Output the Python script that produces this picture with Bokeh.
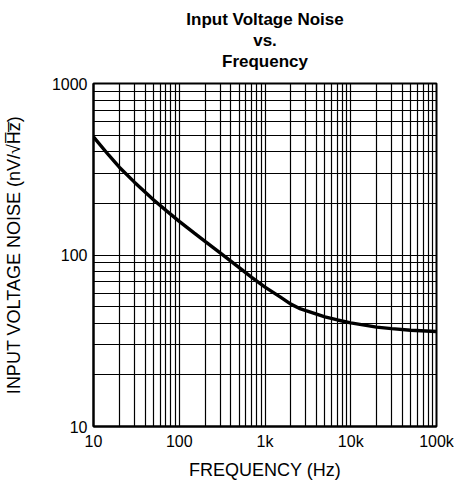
from bokeh.plotting import figure
from bokeh.models import FixedTicker, Title
from bokeh.embed import file_html
from bokeh.resources import INLINE

# Data
freq_hz = [10, 15, 20, 30, 50, 70, 100, 150, 200, 300, 500, 700, 1000,
           1500, 2000, 2500, 3000, 5000, 7000, 10000, 20000, 30000, 50000, 100000]
noise_nv = [488, 383, 325, 266, 210, 182, 157, 134, 120, 103, 84.5, 74, 65,
            57, 51.7, 48.9, 47.4, 43.6, 41.8, 40.2, 38, 37.2, 36.4, 35.8]

x_ticks = [10, 100, 1000, 10000, 100000]
x_tick_labels = ["10", "100", "1k", "10k", "100k"]
y_ticks = [10, 100, 1000]
y_tick_labels = ["10", "100", "1000"]
title_lines = ["Input Voltage Noise", "vs.", "Frequency"]

x_grid = [m * 10 ** e for e in range(1, 5) for m in range(1, 10)] + [100000]
y_grid = [m * 10 ** e for e in range(1, 3) for m in range(1, 10)] + [1000]

FONT = "Liberation Sans"

p = figure(width=454, height=483, x_axis_type="log", y_axis_type="log",
           x_range=(10, 100000), y_range=(10, 1000),
           output_backend="svg", toolbar_location=None,
           min_border_left=93, min_border_right=18,
           min_border_top=83, min_border_bottom=57)


def title_style(t):
    t.align = "center"
    t.text_font = FONT
    t.text_font_size = "17px"
    t.text_font_style = "bold"
    t.text_color = "black"
    t.standoff = 0
    t.text_line_height = 0.9


# outermost line is the figure's own title
p.title.text = title_lines[0]
title_style(p.title)

# small spacer between the title block and the frame (closest to plot)
p.add_layout(Title(text=" ", text_font_size="1px", standoff=10), "above")
# remaining lines, innermost first
for txt in [title_lines[2], title_lines[1]]:
    t = Title(text=txt)
    title_style(t)
    p.add_layout(t, "above")

p.line(freq_hz, noise_nv, line_color="black", line_width=3.4)

p.xaxis.ticker = FixedTicker(ticks=x_ticks, minor_ticks=[])
p.yaxis.ticker = FixedTicker(ticks=y_ticks, minor_ticks=[])
p.xaxis.major_label_overrides = {v: s for v, s in zip(x_ticks, x_tick_labels)}
p.yaxis.major_label_overrides = {v: s for v, s in zip(y_ticks, y_tick_labels)}

p.xgrid.ticker = FixedTicker(ticks=x_grid)
p.ygrid.ticker = FixedTicker(ticks=y_grid)
for g in (p.xgrid, p.ygrid):
    g.grid_line_color = "black"
    g.grid_line_width = 1.2
    g.grid_line_alpha = 1.0

for ax in (p.xaxis, p.yaxis):
    ax.major_tick_line_color = None
    ax.minor_tick_line_color = None
    ax.major_tick_out = 0
    ax.major_tick_in = 0
    ax.minor_tick_out = 0
    ax.minor_tick_in = 0
    ax.axis_line_color = "black"
    ax.axis_line_width = 2
    ax.major_label_text_font = FONT
    ax.major_label_text_font_size = "16px"
    ax.major_label_text_color = "black"
    ax.axis_label_text_font = FONT
    ax.axis_label_text_font_size = "18px"
    ax.axis_label_text_font_style = "normal"
    ax.axis_label_text_color = "black"

p.xaxis.axis_label = "FREQUENCY (Hz)"
p.yaxis.axis_label = "INPUT VOLTAGE NOISE (nV/\u221aH\u0305z\u0305)"
p.xaxis.major_label_standoff = 6
p.xaxis.axis_label_standoff = 7
p.yaxis.major_label_standoff = 6
p.yaxis.axis_label_standoff = 25

p.outline_line_color = "black"
p.outline_line_width = 2
p.background_fill_color = "white"
p.border_fill_color = "white"

open("out.html", "w").write(file_html(p, INLINE))
